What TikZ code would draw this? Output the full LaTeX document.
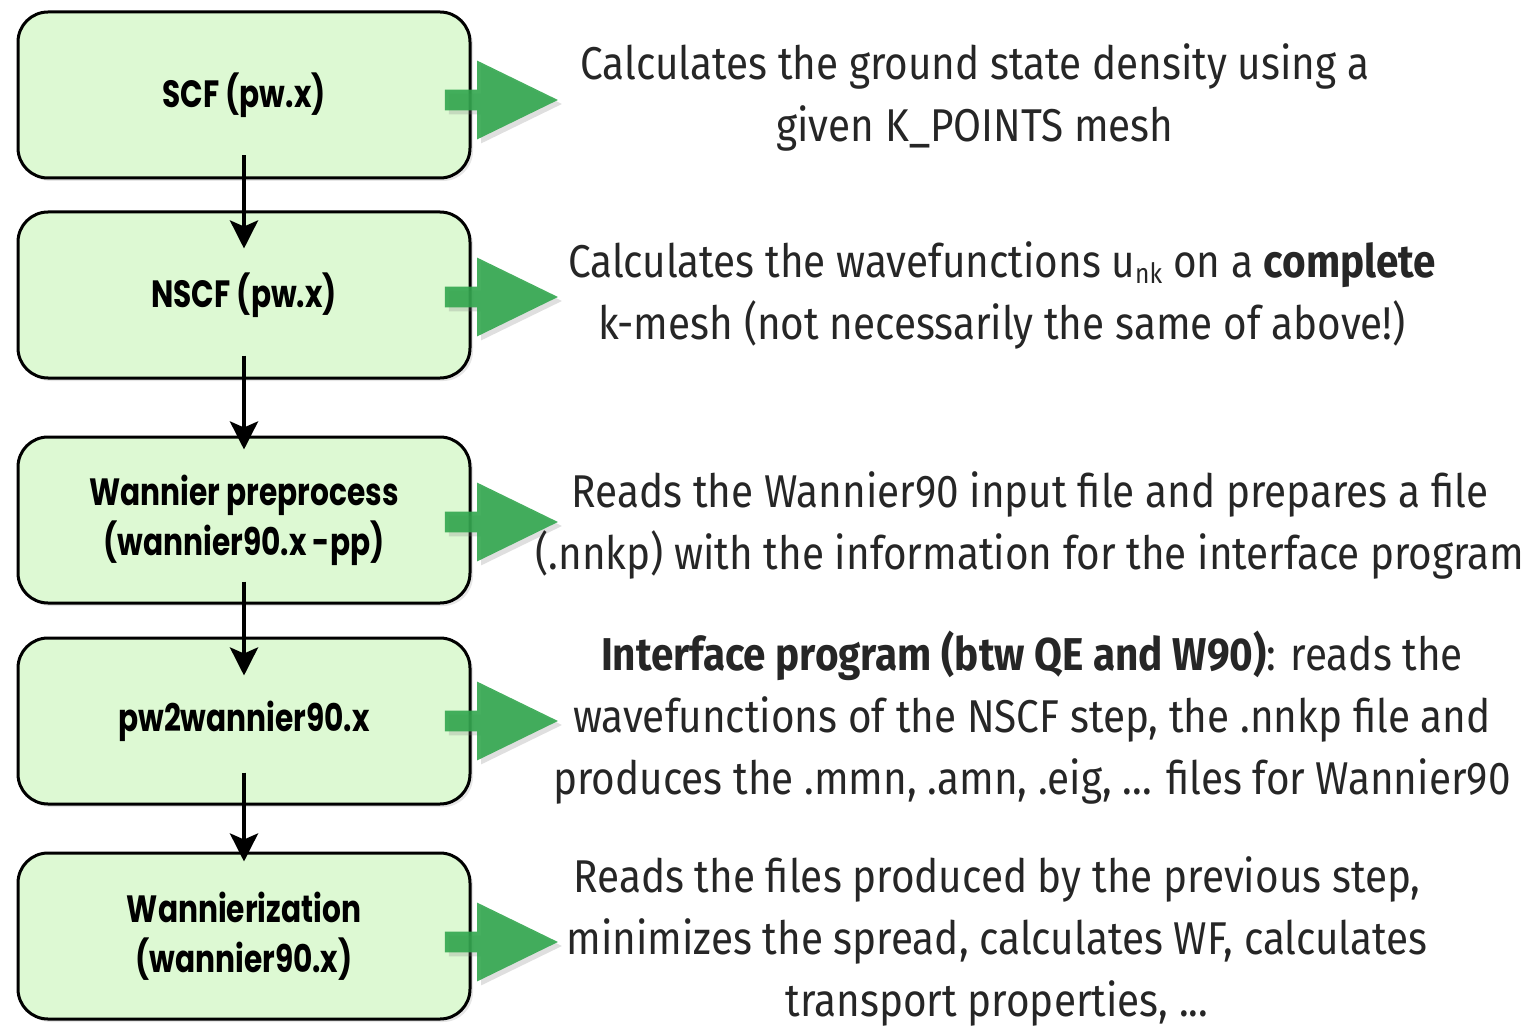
\documentclass[tikz,border=0pt]{standalone}
\usepackage{fontspec}
\setmainfont{Fira Sans}[FakeStretch=0.88]
\newfontfamily\boxfont{Poppins}[FakeStretch=0.78]
\usetikzlibrary{shapes.arrows,positioning,arrows.meta,shadows}
\definecolor{boxgreen}{RGB}{221,249,211}
\definecolor{flowgreen}{RGB}{50,166,78}
\tikzset{
  stepbox/.style={draw, line width=1.5pt, rounded corners=15pt, fill=boxgreen,
    minimum width=226pt, minimum height=83pt, align=center,
    font=\boxfont\bfseries\fontsize{19}{25}\selectfont,
    drop shadow={opacity=0.2, shadow xshift=1.5pt, shadow yshift=-1.5pt}},
  desc/.style={align=center, inner sep=0pt, text=black!85,
    font=\fontsize{23}{31}\selectfont},
  flow/.style={single arrow, draw=none, fill=flowgreen, fill opacity=0.9,
    minimum height=56.5pt, single arrow head extend=14.5pt,
    single arrow tip angle=52, inner sep=5pt, anchor=west,
    drop shadow={opacity=0.25, shadow xshift=2pt, shadow yshift=-2pt}},
  link/.style={-{Stealth[length=14pt,width=14pt,inset=3pt]}, line width=2pt}
}
\newcommand{\sbsc}[1]{{\fontsize{14}{14}\selectfont\raisebox{-3pt}{#1}}}
\begin{document}
\begin{tikzpicture}[x=0.5pt, y=-0.5pt]
    \useasboundingbox (0,0) rectangle (1530,1027);
    % Steps
    \node [stepbox] (scf) at (244,95) {SCF (pw.x)};
    \node [stepbox, below=15.5pt of scf] (nscf) {NSCF (pw.x)};
    \node [stepbox, below=28pt of nscf] (prep) {Wannier preprocess\\(wannier90.x -pp)};
    \node [stepbox, below=16pt of prep] (pw2w) {pw2wannier90.x};
    \node [stepbox, below=23pt of pw2w] (wann) {Wannierization\\(wannier90.x)};

    % Green arrows
    \node [flow] (fscf) at ([xshift=-13.5pt, yshift=-2.5pt]scf.east) {};
    \node [flow] (fnscf) at ([xshift=-13.5pt, yshift=-1pt]nscf.east) {};
    \node [flow] (fprep) at ([xshift=-13.5pt, yshift=-1pt]prep.east) {};
    \node [flow] (fpw2w) at ([xshift=-13.5pt, yshift=0pt]pw2w.east) {};
    \node [flow] (fwann) at ([xshift=-13.5pt, yshift=-3pt]wann.east) {};

    % Descriptions
    \node [desc] (dscf) at (975,97) {Calculates the ground state density using a\\given K\_POINTS mesh};
    \node [desc] (dnscf) at (1002,295) {Calculates the wavefunctions u\sbsc{nk} on a \textbf{complete}\\k-mesh (not necessarily the same of above!)};
    \node [desc] (dprep) at (1030,525) {Reads the Wannier90 input file and prepares a file\\(.nnkp) with the information for the interface program};
    \node [desc] (dpw2w) at (1032,718) {\textbf{Interface program (btw QE and W90)}: reads the\\wavefunctions of the NSCF step, the .nnkp file and\\produces the .mmn, .amn, .eig, ... files for Wannier90};
    \node [desc] (dwann) at (997,941) {Reads the files produced by the previous step,\\minimizes the spread, calculates WF, calculates\\transport properties, ...};

    % Connections
    \draw [link] ([yshift=12pt]scf.south) -- ([yshift=-19pt]nscf.north);
    \draw [link] ([yshift=12pt]nscf.south) -- ([yshift=-7pt]prep.north);
    \draw [link] ([yshift=11.5pt]prep.south) -- ([yshift=-19.5pt]pw2w.north);
    \draw [link] ([yshift=16.5pt]pw2w.south) -- ([yshift=-5pt]wann.north);
\end{tikzpicture}
\end{document}
